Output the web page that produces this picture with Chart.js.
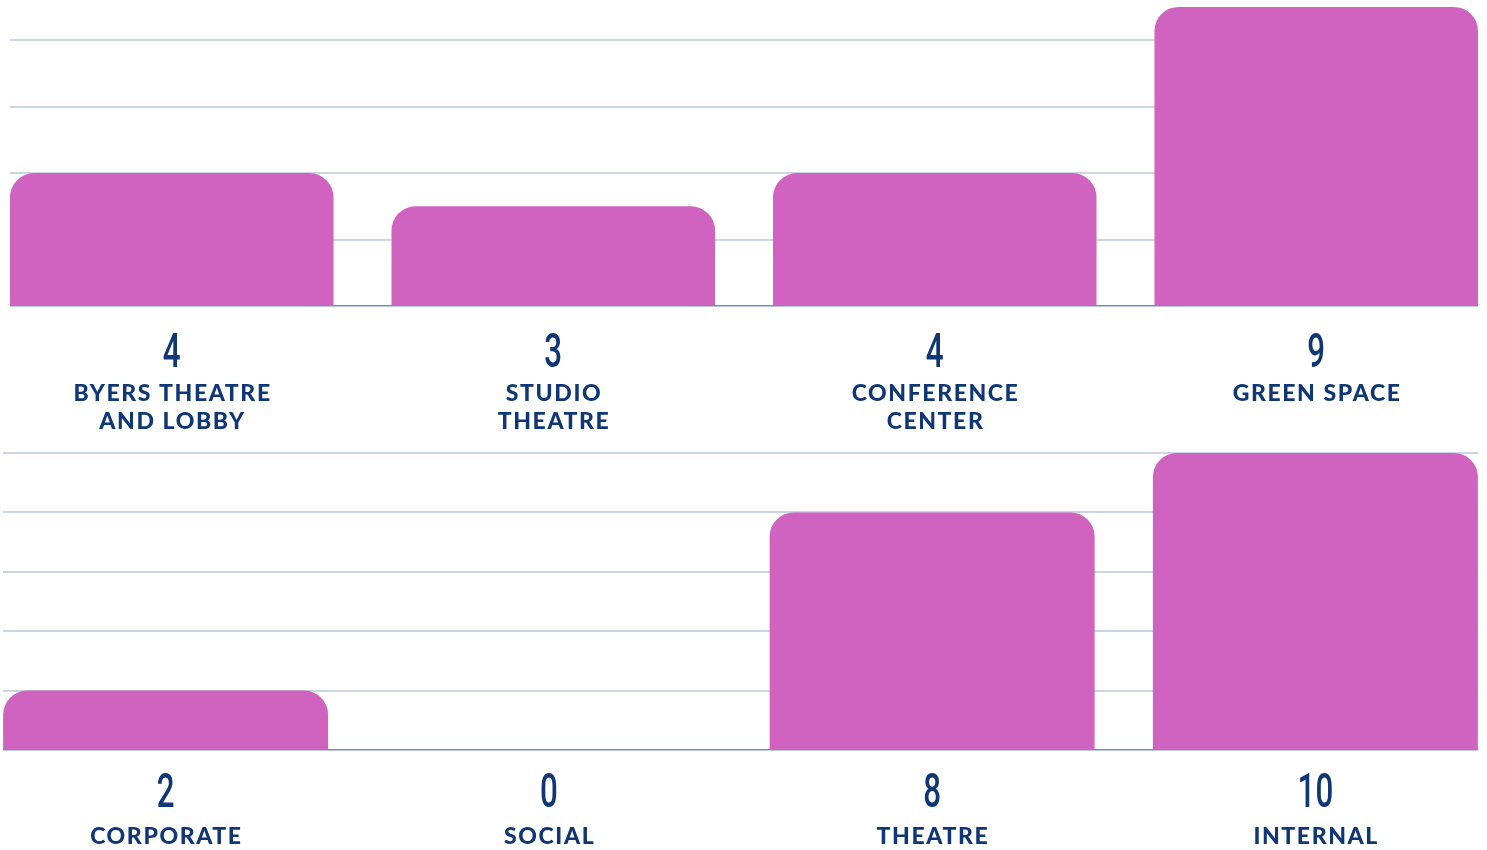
<!DOCTYPE html>
<html><head><meta charset="utf-8">
<script src="https://cdn.jsdelivr.net/npm/chart.js@4.4.1/dist/chart.umd.min.js"></script>
<style>
html,body{margin:0;padding:0;background:#fff;width:1487px;height:850px;overflow:hidden}
.wrap{position:absolute;overflow:hidden}
.inner{position:absolute;top:0;height:100%}
#w1{top:0;left:10px;width:1468px;height:445px}
#w1 .inner{left:-29px;width:1526px}
#w2{top:445px;left:3px;width:1475px;height:405px}
#w2 .inner{left:-29px;width:1533px}
</style></head><body>
<div class="wrap" id="w1"><div class="inner"><canvas id="c1"></canvas></div></div>
<div class="wrap" id="w2"><div class="inner"><canvas id="c2"></canvas></div></div>
<script>
const topCategories = [["BYERS THEATRE","AND LOBBY"],["STUDIO","THEATRE"],["CONFERENCE","CENTER"],["GREEN SPACE"]];
const topValues = [4, 3, 4, 9];
const topTicks = [0, 2, 4, 6, 8];
const bottomCategories = [["CORPORATE"],["SOCIAL"],["THEATRE"],["INTERNAL"]];
const bottomValues = [2, 0, 8, 10];
const bottomTicks = [0, 2, 4, 6, 8, 10];

const PINK = '#d163c0';
const NAVY = '#0f3776';
const GRID = '#cbd5e3';
const AXIS = '#7390b8';

const labelPlugin = {
  id: 'barLabels',
  afterDraw(chart, args, opts) {
    const ctx = chart.ctx, xs = chart.scales.x, b = chart.chartArea.bottom;
    const data = chart.data.datasets[0].data;
    chart.data.labels.forEach((lines, i) => {
      const x = xs.getPixelForValue(i);
      ctx.save();
      ctx.fillStyle = NAVY;
      ctx.textAlign = 'center';
      ctx.textBaseline = 'alphabetic';
      ctx.translate(x, b + opts.numberOffset);
      ctx.scale(0.64, 1);
      ctx.font = '500 49px Roboto';
      ctx.fillText(String(data[i]), 0, 0);
      ctx.restore();
      ctx.save();
      ctx.fillStyle = NAVY;
      ctx.textAlign = 'center';
      ctx.textBaseline = 'alphabetic';
      ctx.font = '900 23px Lato';
      ctx.letterSpacing = '1.6px';
      lines.forEach((ln, j) => ctx.fillText(ln, x + 0.8, b + opts.catOffset + j * 28));
      ctx.restore();
    });
  }
};

function makeChart(id, cats, vals, ticks, max, pad, offs) {
  return new Chart(document.getElementById(id), {
    type: 'bar',
    data: {
      labels: cats,
      datasets: [{
        data: vals,
        backgroundColor: PINK,
        borderWidth: 0,
        borderRadius: {topLeft: 24, topRight: 24, bottomLeft: 0, bottomRight: 0},
        borderSkipped: 'bottom',
        categoryPercentage: 1,
        barPercentage: 0.848
      }]
    },
    options: {
      responsive: true,
      maintainAspectRatio: false,
      animation: false,
      layout: {padding: pad},
      plugins: {legend: {display: false}, tooltip: {enabled: false}, barLabels: offs},
      scales: {
        x: {display: false, offset: true},
        y: {
          display: true,
          min: 0, max: max,
          afterBuildTicks: (s) => { s.ticks = ticks.map(v => ({value: v})); },
          ticks: {display: false},
          border: {display: false},
          grid: {
            drawTicks: false,
            color: (c) => c.tick && c.tick.value === 0 ? AXIS : GRID,
            lineWidth: (c) => c.tick && c.tick.value === 0 ? 1.5 : 2
          }
        }
      }
    },
    plugins: [labelPlugin]
  });
}

makeChart('c1', topCategories, topValues, topTicks, 9,
  {left: 0, right: 0, top: 7, bottom: 139}, {numberOffset: 61, catOffset: 95});
makeChart('c2', bottomCategories, bottomValues, bottomTicks, 10,
  {left: 0, right: 0, top: 8, bottom: 100}, {numberOffset: 57, catOffset: 94});
</script>
</body></html>
